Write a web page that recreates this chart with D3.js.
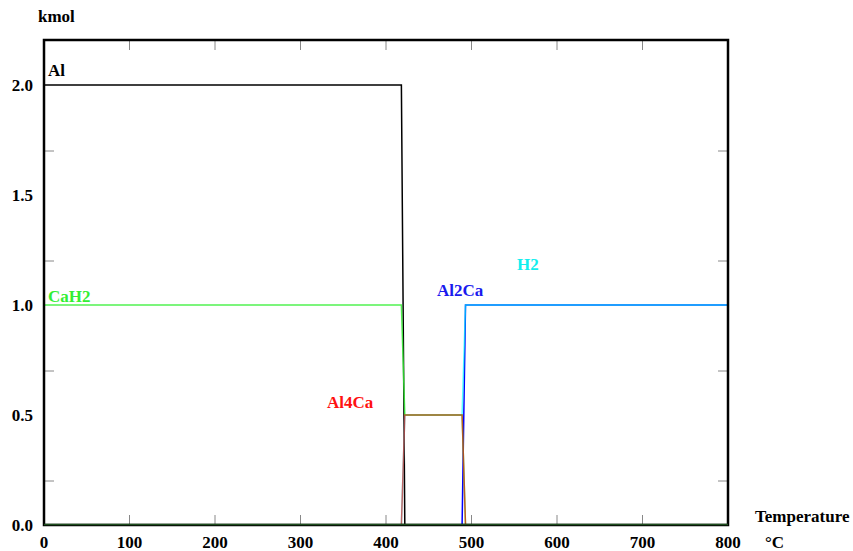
<!DOCTYPE html>
<html><head><meta charset="utf-8">
<script src="https://cdn.jsdelivr.net/npm/d3@7"></script>
<style>body{margin:0;background:#fff}svg{display:block}text{font-family:"Liberation Serif","Times New Roman",serif;font-weight:bold;font-size:17px}</style>
</head><body><svg id="c" width="853" height="551"></svg>
<script>
const temperature = [0, 418, 422, 489, 493, 800];
const Al    = [2.0, 2.0, 0.0, 0.0, 0.0, 0.0];
const CaH2  = [1.0, 1.0, 0.5, 0.5, 0.0, 0.0];
const Al4Ca = [0.0, 0.0, 0.5, 0.5, 0.0, 0.0];
const Al2Ca = [0.0, 0.0, 0.0, 0.0, 1.0, 1.0];
const H2    = [0.0, 0.0, 0.5, 0.5, 1.0, 1.0];
const xTicks = [0, 100, 200, 300, 400, 500, 600, 700, 800];
const yTicks = [0.0, 0.5, 1.0, 1.5, 2.0];
const yMinor = [0.2, 0.7, 1.2, 1.7];

const series = [
  {name:"Al", values:Al, color:"#000000", label:"#000000", lx:48, ly:76, op:1},
  {name:"Al2Ca", values:Al2Ca, color:"#0000ff", label:"#1a1aee", lx:437, ly:296, op:1},
  {name:"H2", values:H2, color:"#00ffff", label:"#11eeee", lx:517, ly:270, op:0.65},
  {name:"CaH2", values:CaH2, color:"#33ee33", label:"#33ee33", lx:48, ly:302, op:0.85},
  {name:"Al4Ca", values:Al4Ca, color:"#ff0000", label:"#ff1111", lx:327, ly:408, op:0.6}
];

const svg = d3.select("#c");
const x = d3.scaleLinear().domain([0, 800]).range([44, 728]);
const y = d3.scaleLinear().domain([0, 2.2]).range([525, 41]);

// ticks inside frame
const g = svg.append("g");
xTicks.slice(1, -1).forEach(t => {
  g.append("line").attr("x1", x(t)).attr("x2", x(t)).attr("y1", y(0)).attr("y2", y(0) - 10).attr("stroke", "#888").attr("stroke-width", 1);
  g.append("line").attr("x1", x(t)).attr("x2", x(t)).attr("y1", 40).attr("y2", 50).attr("stroke", "#888").attr("stroke-width", 1);
});
yMinor.forEach(t => {
  g.append("line").attr("x1", 44).attr("x2", 54).attr("y1", y(t)).attr("y2", y(t)).attr("stroke", "#888").attr("stroke-width", 1);
  g.append("line").attr("x1", 728).attr("x2", 718).attr("y1", y(t)).attr("y2", y(t)).attr("stroke", "#888").attr("stroke-width", 1);
});

// lines
const line = d3.line().x((d, i) => x(temperature[i])).y(d => y(d));
series.forEach(s => {
  svg.append("path").attr("d", line(s.values)).attr("fill", "none")
    .attr("stroke", s.color).attr("stroke-width", 1.5).attr("stroke-opacity", s.op);
});

// frame
svg.append("rect").attr("x", 44).attr("y", 40).attr("width", 684).attr("height", 485)
  .attr("fill", "none").attr("stroke", "#000").attr("stroke-width", 2.5);
// dark green baseline where all zero-valued series overlap
svg.append("line").attr("x1", x(0)).attr("x2", x(800)).attr("y1", y(0) - 0.5).attr("y2", y(0) - 0.5)
  .attr("stroke", "#1f4f1f").attr("stroke-width", 1.5);

// tick labels
yTicks.forEach(t => {
  svg.append("text").attr("x", 33).attr("y", y(t) + 6).attr("text-anchor", "end").text(t.toFixed(1));
});
xTicks.forEach(t => {
  svg.append("text").attr("x", x(t)).attr("y", 548).attr("text-anchor", "middle").text(t);
});
svg.append("text").attr("x", 38).attr("y", 22).text("kmol");
svg.append("text").attr("x", 755).attr("y", 522).text("Temperature");
svg.append("text").attr("x", 765).attr("y", 548).text("°C");

// series labels
series.forEach(s => {
  svg.append("text").attr("x", s.lx).attr("y", s.ly).attr("fill", s.label).text(s.name);
});
</script></body></html>
